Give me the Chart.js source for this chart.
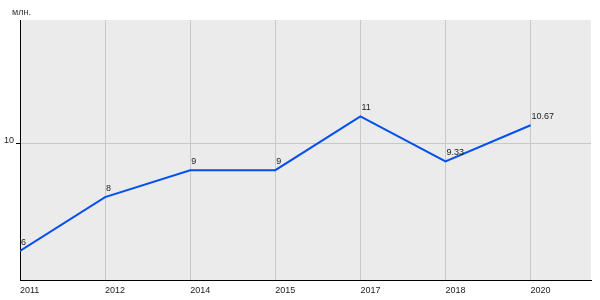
<!DOCTYPE html>
<html>
<head>
<meta charset="utf-8">
<script src="https://cdn.jsdelivr.net/npm/chart.js@4"></script>
<style>
  html, body { margin: 0; padding: 0; background: #fff; }
</style>
</head>
<body>
<canvas id="chart" width="600" height="300"></canvas>
<script>
const years = ["2011", "2012", "2014", "2015", "2017", "2018", "2020"];
const values = [6, 8, 9, 9, 11, 9.33, 10.67];
const valueLabels = ["6", "8", "9", "9", "11", "9.33", "10.67"];
const yTicks = [10];
const unit = "млн.";

const FONT = '"Liberation Sans", Arial, sans-serif';

// background of the plot area + unit label + point labels
const decor = {
  id: 'decor',
  beforeDraw(chart) {
    const { ctx, chartArea: a } = chart;
    ctx.save();
    ctx.fillStyle = '#ebebeb';
    ctx.fillRect(a.left, a.top, a.right - a.left, a.bottom - a.top);
    ctx.fillStyle = '#333';
    ctx.font = '9px ' + FONT;
    ctx.textAlign = 'left';
    ctx.textBaseline = 'alphabetic';
    ctx.fillText(unit, 12, 15);
    ctx.restore();
  },
  afterDatasetsDraw(chart) {
    const { ctx } = chart;
    const meta = chart.getDatasetMeta(0);
    ctx.save();
    ctx.fillStyle = '#222';
    ctx.font = '9px ' + FONT;
    ctx.textAlign = 'left';
    ctx.textBaseline = 'alphabetic';
    meta.data.forEach((pt, i) => {
      ctx.fillText(valueLabels[i], pt.x + 1, pt.y - 6);
    });
    ctx.restore();
  }
};

const ctx = document.getElementById('chart').getContext('2d');

const chart = new Chart(ctx, {
  type: 'line',
  data: {
    datasets: [{
      data: values.map((v, i) => ({ x: i, y: v })),
      borderColor: '#0050ee',
      borderWidth: 2,
      pointRadius: 0,
      tension: 0,
      fill: false,
    }]
  },
  options: {
    responsive: false,
    animation: false,
    devicePixelRatio: 1,
    layout: { padding: { top: 20, right: 9, left: 0, bottom: 0 } },
    plugins: {
      legend: { display: false },
      tooltip: { enabled: false },
    },
    scales: {
      x: {
        type: 'linear',
        min: 0,
        max: 6.71,
        afterBuildTicks: (axis) => { axis.ticks = years.map((y, i) => ({ value: i })); },
        afterFit: (axis) => { axis.height = 20; },
        ticks: {
          align: 'start',
          padding: 5,
          color: '#222',
          font: { family: FONT, size: 9 },
          maxRotation: 0,
          autoSkip: false,
          callback: (v) => years[v] ?? '',
        },
        grid: { color: '#c8c8c8', drawTicks: false },
        border: { color: '#000', width: 1 },
      },
      y: {
        min: 4.92,
        max: 14.58,
        afterBuildTicks: (axis) => { axis.ticks = yTicks.map(v => ({ value: v })); },
        afterFit: (axis) => { axis.width = 20; },
        ticks: {
          padding: 2,
          labelOffset: -3,
          color: '#222',
          font: { family: FONT, size: 9 },
        },
        grid: { color: '#c8c8c8', tickColor: '#000', tickLength: 4 },
        border: { color: '#000', width: 1 },
      }
    }
  },
  plugins: [decor]
});
</script>
</body>
</html>
